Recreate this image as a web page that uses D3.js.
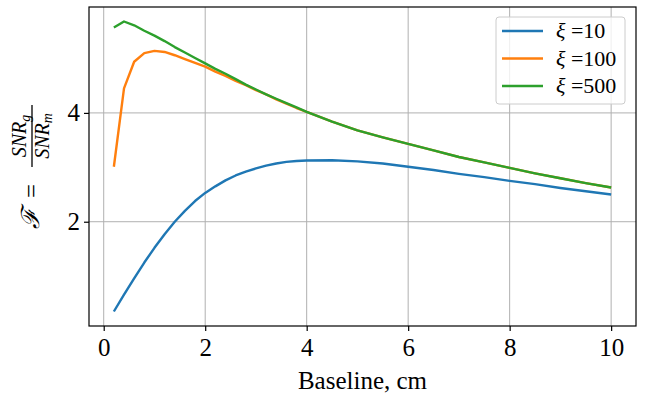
<!DOCTYPE html>
<html>
<head>
<meta charset="utf-8">
<script src="https://cdn.jsdelivr.net/npm/d3@7"></script>
<style>
  body { margin: 0; background: #fff; }
  text { font-family: "Liberation Serif", "DejaVu Serif", serif; fill: #000; }
  .grid line { stroke: #b0b0b0; stroke-width: 1; }
</style>
</head>
<body>
<div id="chart"></div>
<script>
const svgWidth = 652,
    svgHeight = 398,
    margin = { top: 7, right: 16, bottom: 72, left: 89 },
    width = svgWidth - margin.left - margin.right,
    height = svgHeight - margin.top - margin.bottom;

// baseline values (cm)
const baseline = [0.2, 0.4, 0.6, 0.8, 1.0, 1.2, 1.4, 1.6, 1.8, 2.0,
    2.2, 2.4, 2.6, 2.8, 3.0, 3.2, 3.4, 3.6, 3.8, 4.0,
    4.5, 5.0, 5.5, 6.0, 6.5, 7.0, 7.5, 8.0, 8.5, 9.0, 9.5, 10.0];
const xi10 = [0.35, 0.66, 0.96, 1.25, 1.52, 1.77, 2.0, 2.2, 2.38, 2.53,
    2.65, 2.76, 2.85, 2.92, 2.98, 3.03, 3.07, 3.10, 3.115, 3.125,
    3.13, 3.11, 3.07, 3.01, 2.95, 2.88, 2.82, 2.75, 2.69, 2.62, 2.56, 2.50];
const xi100 = [3.01, 4.45, 4.94, 5.10, 5.14, 5.12, 5.06, 4.99, 4.92, 4.85,
    4.76, 4.68, 4.59, 4.51, 4.42, 4.34, 4.25, 4.17, 4.09, 4.02,
    3.84, 3.68, 3.55, 3.43, 3.31, 3.19, 3.09, 2.99, 2.89, 2.80, 2.71, 2.63];
const xi500 = [5.57, 5.68, 5.61, 5.51, 5.42, 5.32, 5.21, 5.11, 5.01, 4.91,
    4.81, 4.72, 4.62, 4.52, 4.43, 4.34, 4.26, 4.18, 4.10, 4.02,
    3.84, 3.68, 3.55, 3.43, 3.31, 3.19, 3.09, 2.99, 2.89, 2.80, 2.71, 2.63];
const seriesNames = ["10", "100", "500"];
const xTicks = [0, 2, 4, 6, 8, 10];
const yTicks = [2, 4];

const colors = ["#1f77b4", "#ff7f0e", "#2ca02c"];
const series = [xi10, xi100, xi500].map((vals, i) => ({
    name: seriesNames[i],
    values: vals.map((v, j) => ({ x: baseline[j], y: v }))
}));

const svg = d3.select("#chart").append("svg")
    .attr("width", svgWidth)
    .attr("height", svgHeight)
    .append("g")
    .attr("transform", `translate(${margin.left},${margin.top})`);

// matplotlib style 5% padding
const allY = [].concat(xi10, xi100, xi500);
const xPad = (d3.max(baseline) - d3.min(baseline)) * 0.05,
    yPad = (d3.max(allY) - d3.min(allY)) * 0.05;

const xScale = d3.scaleLinear()
    .domain([d3.min(baseline) - xPad, d3.max(baseline) + xPad])
    .range([0, width]);
const yScale = d3.scaleLinear()
    .domain([d3.min(allY) - yPad, d3.max(allY) + yPad])
    .range([height, 0]);

// grid
svg.append("g").attr("class", "grid")
    .selectAll("line.v").data(xTicks).join("line")
    .attr("x1", d => xScale(d)).attr("x2", d => xScale(d))
    .attr("y1", 0).attr("y2", height);
svg.append("g").attr("class", "grid")
    .selectAll("line.h").data(yTicks).join("line")
    .attr("x1", 0).attr("x2", width)
    .attr("y1", d => yScale(d)).attr("y2", d => yScale(d));

// lines
const line = d3.line().x(d => xScale(d.x)).y(d => yScale(d.y));
svg.selectAll("path.series")
    .data(series)
    .join("path")
    .attr("class", "series")
    .attr("fill", "none")
    .attr("stroke", (d, i) => colors[i])
    .attr("stroke-width", 2.4)
    .attr("stroke-linejoin", "round")
    .attr("d", d => line(d.values));

// frame
svg.append("rect")
    .attr("width", width).attr("height", height)
    .attr("fill", "none").attr("stroke", "#000").attr("stroke-width", 1.2);

// axes
const xAxis = svg.append("g")
    .attr("transform", `translate(0,${height})`)
    .call(d3.axisBottom(xScale).tickValues(xTicks).tickSize(5).tickPadding(7).tickFormat(d3.format("d")));
const yAxis = svg.append("g")
    .call(d3.axisLeft(yScale).tickValues(yTicks).tickSize(5).tickPadding(4).tickFormat(d3.format("d")));
[xAxis, yAxis].forEach(a => {
    a.select(".domain").remove();
    a.selectAll(".tick line").attr("stroke", "#000").attr("stroke-width", 1.2);
    a.selectAll(".tick text").style("font-family", "'Liberation Serif', serif").style("font-size", "25px");
});

// x label
svg.append("text")
    .attr("x", width / 2)
    .attr("y", height + 63)
    .attr("text-anchor", "middle")
    .style("font-size", "25px")
    .text("Baseline, cm");

// y label: F = SNR_g / SNR_m
const yl = svg.append("g")
    .attr("transform", `translate(${32 - margin.left},${166 - margin.top}) rotate(-90)`);
yl.append("text")
    .attr("x", -52).attr("y", 7)
    .attr("text-anchor", "middle")
    .style("font-size", "25px")
    .style("font-style", "italic")
    .text("\u2131");
yl.append("text")
    .attr("x", -25).attr("y", 8)
    .attr("text-anchor", "middle")
    .style("font-size", "25px")
    .text("=");
yl.append("line")
    .attr("x1", -1).attr("x2", 61).attr("y1", 0).attr("y2", 0)
    .attr("stroke", "#000").attr("stroke-width", 1.3);
const num = yl.append("text")
    .attr("x", 30).attr("y", -6)
    .attr("text-anchor", "middle")
    .style("font-size", "20px")
    .style("font-style", "italic");
num.append("tspan").text("SNR");
num.append("tspan").attr("dy", 4).style("font-size", "14px").text("g");
const den = yl.append("text")
    .attr("x", 30).attr("y", 17)
    .attr("text-anchor", "middle")
    .style("font-size", "20px")
    .style("font-style", "italic");
den.append("tspan").text("SNR");
den.append("tspan").attr("dy", 3).style("font-size", "14px").text("m");

// legend
const legend = svg.append("g")
    .attr("transform", `translate(${496 - margin.left},${17 - margin.top})`);
legend.append("rect")
    .attr("width", 129).attr("height", 87)
    .attr("rx", 3)
    .attr("fill", "#fff").attr("fill-opacity", 0.8)
    .attr("stroke", "#cccccc").attr("stroke-width", 1);
const items = legend.selectAll("g.item")
    .data(series)
    .join("g")
    .attr("class", "item")
    .attr("transform", (d, i) => `translate(0,${14 + i * 27.5})`);
items.append("line")
    .attr("x1", 6).attr("x2", 47)
    .attr("stroke", (d, i) => colors[i])
    .attr("stroke-width", 2.4);
const lt = items.append("text")
    .attr("x", 60).attr("y", 7)
    .style("font-size", "22px");
lt.append("tspan").style("font-style", "italic").text("\u03be");
lt.append("tspan").text(" =");
lt.append("tspan").text(d => d.name);
</script>
</body>
</html>
